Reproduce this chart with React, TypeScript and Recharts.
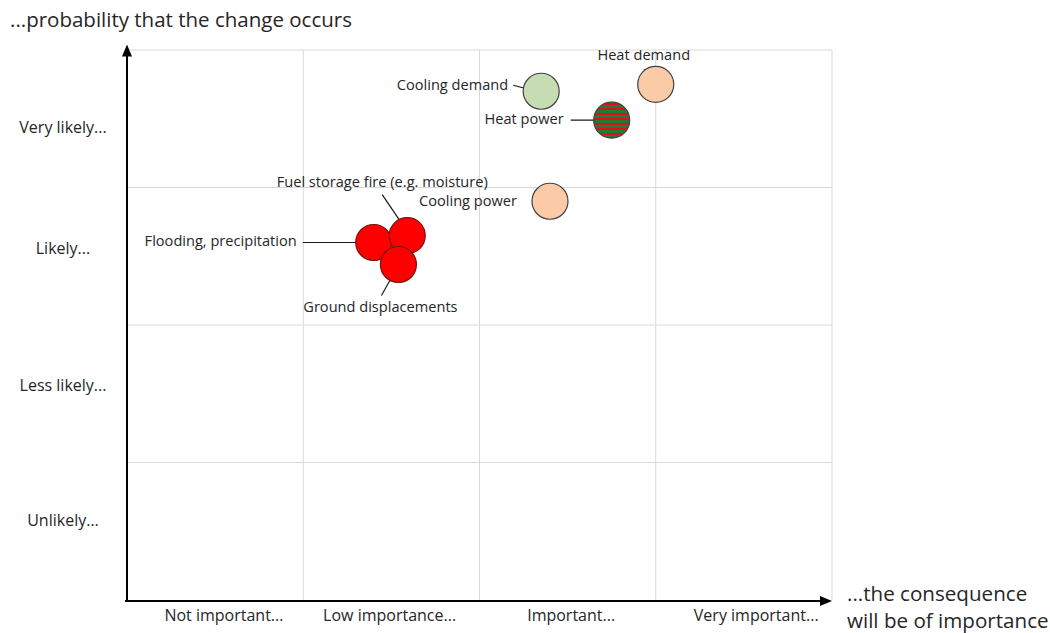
import React from 'react';
import { ScatterChart, Scatter, XAxis, YAxis, ReferenceLine } from 'recharts';

// risks, x = consequence (0..4), y = probability (0..4)
const risks = [
  'Flooding, precipitation',
  'Fuel storage fire (e.g. moisture)',
  'Ground displacements',
  'Cooling power',
  'Cooling demand',
  'Heat power',
  'Heat demand',
];
const consequence = [1.4, 1.59, 1.54, 2.4, 2.35, 2.75, 3.0];
const probability = [2.6, 2.65, 2.44, 2.9, 3.7, 3.49, 3.75];

const xTicks = [0.55, 1.49, 2.52, 3.57];
const xTickLabels = ['Not important...', 'Low importance...', 'Important...', 'Very important...'];
const yTicks = [0.57, 1.55, 2.55, 3.43];
const yTickLabels = ['Unlikely...', 'Less likely...', 'Likely...', 'Very likely...'];
const gridLines = [1, 2, 3, 4];

const FONT = '"Open Sans", Lato, sans-serif';
const TEXT = '#262626';
const GRID = '#d9d9d9';
const R = 18;

// label placement relative to the bubble centre
const labelStyle: Record<string, any> = {
  'Flooding, precipitation': { dx: -77, dy: 0, anchor: 'end', line: [-71, 0, -3, 0] },
  'Fuel storage fire (e.g. moisture)': { dx: -25, dy: -53, anchor: 'middle', line: [-25, -41, 0, -4] },
  'Ground displacements': { dx: -18, dy: 44, anchor: 'middle', line: [-17, 31, 1, -1] },
  'Cooling power': { dx: -33, dy: 1, anchor: 'end', line: null },
  'Cooling demand': { dx: -33, dy: -5, anchor: 'end', line: [-28, -6, -1, 1] },
  'Heat power': { dx: -48, dy: 0, anchor: 'end', line: [-41, 0, 0, 0] },
  'Heat demand': { dx: -12, dy: -28, anchor: 'middle', line: [-12, -15, 0, -2] },
};

const bubbleStyle: Record<string, { fill: string; stroke: string }> = {
  'Flooding, precipitation': { fill: '#ff0000', stroke: '#7a1010' },
  'Fuel storage fire (e.g. moisture)': { fill: '#ff0000', stroke: '#7a1010' },
  'Ground displacements': { fill: '#ff0000', stroke: '#7a1010' },
  'Cooling power': { fill: '#fbcaa6', stroke: '#404040' },
  'Cooling demand': { fill: '#c6dcb2', stroke: '#404040' },
  'Heat power': { fill: 'url(#stripes)', stroke: '#404040' },
  'Heat demand': { fill: '#fbcaa6', stroke: '#404040' },
};

const data = risks.map((name, i) => ({ name, x: consequence[i], y: probability[i] }));

const Bubble = (props: any) => {
  const { cx, cy, payload } = props;
  const st = bubbleStyle[payload.name];
  return (
    <g>
      <defs>
        <pattern id="stripes" width="6" height="5" patternUnits="userSpaceOnUse">
          <rect width="6" height="5" fill="#1e7b3a" />
          <rect y="3" width="6" height="2" fill="#e01010" />
        </pattern>
      </defs>
      <circle cx={cx} cy={cy} r={R} fill={st.fill} stroke={st.stroke} strokeWidth={1.2} />
    </g>
  );
};

const BubbleLabel = (props: any) => {
  const { cx, cy, payload } = props;
  const ls = labelStyle[payload.name];
  return (
    <g>
      {ls.line && (
        <line
          x1={cx + ls.line[0]}
          y1={cy + ls.line[1]}
          x2={cx + ls.line[2]}
          y2={cy + ls.line[3]}
          stroke="#1a1a1a"
          strokeWidth={1.2}
        />
      )}
      <text
        x={cx + ls.dx}
        y={cy + ls.dy}
        textAnchor={ls.anchor}
        dominantBaseline="middle"
        fontFamily={FONT}
        fontSize={14.6}
        fill={TEXT}
      >
        {payload.name}
      </text>
    </g>
  );
};

const XTick = (props: any) => {
  const { x, index } = props;
  return (
    <text x={x} y={617} textAnchor="middle" dominantBaseline="middle" fontFamily={FONT} fontSize={16} fill={TEXT}>
      {xTickLabels[index]}
    </text>
  );
};

const YTick = (props: any) => {
  const { y, index } = props;
  return (
    <text x={63} y={y} textAnchor="middle" dominantBaseline="middle" fontFamily={FONT} fontSize={16} fill={TEXT}>
      {yTickLabels[index]}
    </text>
  );
};

const YArrow = (props: any) => {
  const { x1, y1, x2, y2 } = props;
  return (
    <g>
      <line x1={x1} y1={y1} x2={x2} y2={y2 + 8} stroke="#000" strokeWidth={2} />
      <polygon points={`${x2},${y2} ${x2 - 5},${y2 + 12} ${x2 + 5},${y2 + 12}`} fill="#000" />
    </g>
  );
};

const XArrow = (props: any) => {
  const { x1, y1, x2, y2 } = props;
  return (
    <g>
      <line x1={x1 - 2} y1={y1 + 1} x2={x2 - 8} y2={y2 + 1} stroke="#000" strokeWidth={2} />
      <polygon points={`${x2},${y2 + 1} ${x2 - 12},${y2 - 4} ${x2 - 12},${y2 + 6}`} fill="#000" />
    </g>
  );
};

export default function App() {
  return (
    <div style={{ position: 'absolute', left: 0, top: 0, width: 1050, height: 633, background: '#fff' }}>
      <ScatterChart width={1050} height={633} margin={{ top: 50, right: 218, bottom: 0, left: 0 }}>
        <XAxis
          type="number"
          dataKey="x"
          domain={[0, 4]}
          ticks={xTicks}
          tick={<XTick />}
          axisLine={false}
          tickLine={false}
          height={33}
          allowDataOverflow
        />
        <YAxis
          type="number"
          dataKey="y"
          domain={[0, 4]}
          ticks={yTicks}
          tick={<YTick />}
          axisLine={false}
          tickLine={false}
          width={127}
          allowDataOverflow
        />
        {gridLines.map((v) => (
          <ReferenceLine key={`gx${v}`} x={v} stroke={GRID} strokeWidth={1} />
        ))}
        {gridLines.map((v) => (
          <ReferenceLine key={`gy${v}`} y={v} stroke={GRID} strokeWidth={1} />
        ))}
        <ReferenceLine
          segment={[{ x: 0, y: 0 }, { x: 0, y: 4.04 }]}
          ifOverflow="visible"
          shape={<YArrow />}
        />
        <ReferenceLine
          segment={[{ x: 0, y: 0 }, { x: 4, y: 0 }]}
          ifOverflow="visible"
          shape={<XArrow />}
        />
        <Scatter data={data} shape={<BubbleLabel />} isAnimationActive={false} />
        <Scatter data={data} shape={<Bubble />} isAnimationActive={false} />
      </ScatterChart>
      <div
        style={{
          position: 'absolute',
          left: 10,
          top: 5,
          fontFamily: FONT,
          fontSize: 20.5,
          color: TEXT,
          whiteSpace: 'nowrap',
        }}
      >
        ...probability that the change occurs
      </div>
      <div
        style={{
          position: 'absolute',
          left: 847,
          top: 580,
          fontFamily: FONT,
          fontSize: 20.6,
          lineHeight: '27px',
          color: TEXT,
          whiteSpace: 'nowrap',
        }}
      >
        ...the consequence
        <br />
        will be of importance
      </div>
    </div>
  );
}
